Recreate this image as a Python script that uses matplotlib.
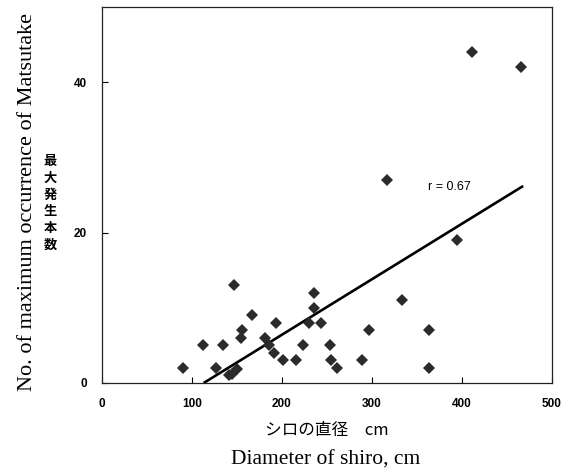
import matplotlib
matplotlib.use("Agg")
import matplotlib.pyplot as plt

# shiro diameter (cm) vs max number of matsutake
diameter = [90, 112, 127, 134, 141, 145, 150, 147, 154, 156, 167, 181, 186, 191,
            193, 201, 216, 223, 230, 236, 236, 243, 253, 255, 261, 289, 297,
            317, 333, 363, 363, 394, 411, 466]
occurrence = [2, 5, 2, 5, 1, 1.2, 1.8, 13, 6, 7, 9, 6, 5, 4,
              8, 3, 3, 5, 8, 12, 10, 8, 5, 3, 2, 3, 7,
              27, 11, 7, 2, 19, 44, 42]

# regression line end points (as printed)
fit_x = [113, 468]
fit_y = [0, 26.2]
r_label = "r = 0.67"

x_ticks = [0, 100, 200, 300, 400, 500]
y_ticks = [0, 20, 40]

fig = plt.figure(figsize=(5.7, 4.74), dpi=100)
ax = fig.add_axes([0.1789, 0.192, 0.7895, 0.7932])

ax.plot(fit_x, fit_y, color="black", linewidth=1.9, solid_capstyle="butt")
ax.plot(diameter, occurrence, linestyle="none", marker="D", markersize=6.0,
        color="#2b2b2b", markeredgewidth=0)

ax.text(362, 26.1, r_label, fontsize=9, family="Liberation Sans", va="center", ha="left")

ax.set_xlim(0, 500)
ax.set_ylim(0, 50)
ax.set_xticks(x_ticks)
ax.set_yticks(y_ticks)
ax.tick_params(direction="in", length=4, width=0.8, labelsize=8.5)
ax.tick_params(axis="x", pad=11)
ax.tick_params(axis="y", pad=11)
for lab in ax.get_xticklabels() + ax.get_yticklabels():
    lab.set_family("Liberation Sans")
    lab.set_fontweight("bold")
for sp in ax.spines.values():
    sp.set_linewidth(0.9)
    sp.set_color("#222222")

# axis titles, English (serif) and Japanese
fig.text(28 / 570, 1 - 202 / 474, "No. of maximum occurrence of Matsutake",
         rotation=90, ha="center", va="center", fontsize=16, family="Liberation Serif")
fig.text(50 / 570, 1 - 203 / 474, "\n".join("最大発生本数"), ha="center", va="center",
         fontsize=9.5, fontweight="bold", linespacing=1.25,
         family=["Noto Sans CJK JP", "DejaVu Sans"])
fig.text(327 / 570, 1 - 430 / 474, "シロの直径　cm", ha="center", va="center",
         fontsize=12, family=["Noto Sans CJK JP", "DejaVu Sans"])
fig.text(326 / 570, 1 - 460 / 474, "Diameter of shiro, cm", ha="center", va="center",
         fontsize=15.5, family="Liberation Serif")

fig.savefig("out.png", dpi=100)
